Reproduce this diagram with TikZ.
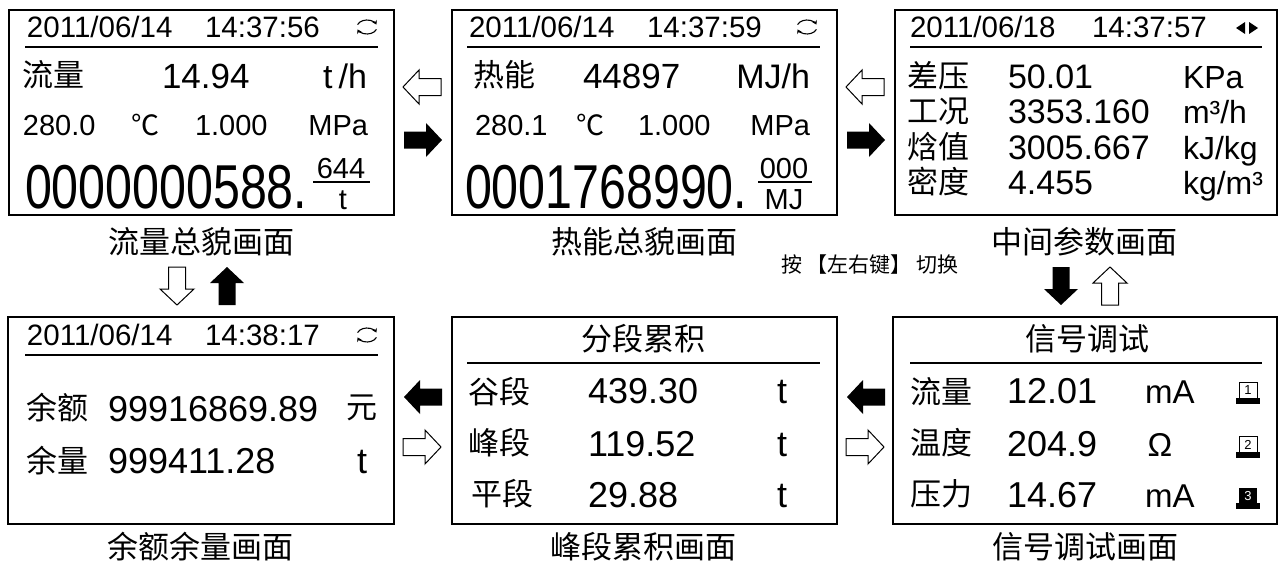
\documentclass[tikz,border=0pt]{standalone}
\usepackage{fontspec}
\usepackage{graphicx}
\setmainfont{Liberation Sans}
\newfontfamily\cjk{Noto Sans CJK SC}
\usetikzlibrary{arrows.meta}
\newcommand\fsz[1]{\fontsize{#1}{#1}\selectfont}
\begin{document}
\begin{tikzpicture}[x=1pt,y=-1pt,
  screen/.style={draw, line width=1.4pt, inner sep=0pt, minimum width=385pt, minimum height=205pt},
  txt/.style={inner sep=0pt, outer sep=0pt},
  cn/.style={txt, font=\cjk\fsz{31}},
  captxt/.style={txt, font=\cjk\fsz{31}},
  hd/.style={txt, font=\fsz{29.5}, anchor=base west},
  val/.style={txt, font=\fsz{35}, anchor=base west},
  mid/.style={txt, font=\fsz{29}, anchor=base west},
  rule/.style={line width=1.2pt},
  whitearr/.style={draw=black, fill=white, line width=1pt},
  blackarr/.style={fill=black},
  blockarrow/.pic={\path[pic actions] (-19,-8.5) -- (3,-8.5) -- (3,-17) -- (19,0) -- (3,17) -- (3,8.5) -- (-19,8.5) -- cycle;},
  refresh/.pic={
    \draw[line width=1.1pt, -{Stealth[length=4pt,width=5pt]}] (-160:10 and 7) arc[start angle=-160, end angle=-20, x radius=10, y radius=7];
    \draw[line width=1.1pt, -{Stealth[length=4pt,width=5pt]}] (20:10 and 7) arc[start angle=20, end angle=160, x radius=10, y radius=7];}
]
\useasboundingbox (0,0) rectangle (1280,565);

% ---------- screens ----------
\node[screen] (s1) at (201.5,112.5) {};
\node[screen] (s2) at (644.5,112.5) {};
\node[screen, minimum width=382pt] (s3) at (1086,112.5) {};
\node[screen, minimum width=386pt, minimum height=207pt] (s4) at (201,420.5) {};
\node[screen, minimum height=207pt] (s5) at (644.5,420.5) {};
\node[screen, minimum width=384pt, minimum height=207pt] (s6) at (1085,420.5) {};

% ---------- captions ----------
\node[captxt] (c1) at (201,242) {流量总貌画面};
\node[captxt] (c2) at (644,242) {热能总貌画面};
\node[captxt] (c3) at (1084,242) {中间参数画面};
\node[captxt] (c4) at (200,547) {余额余量画面};
\node[captxt] (c5) at (643,547) {峰段累积画面};
\node[captxt] (c6) at (1085,547) {信号调试画面};
\node[txt, font=\cjk\fsz{21}] (hint) at (870,265) {按 【左右键】 切换};

% ---------- screen 1 ----------
\node[hd] (d1) at (27,37) {2011/06/14};
\node[hd] (t1) at (205,37) {14:37:56};
\draw[rule] (25,47) -- (378,47);
\pic at (367,27) {refresh};
\node[cn, anchor=west] (l1) at (23,75) {流量};
\node[val] (v1) at (162,88) {14.94};
\node[txt, font=\fsz{34}, anchor=base east] (u1) at (367,88) {t\hspace{6pt}/h};
\node[mid] (a1) at (23,135) {280.0};
\node[txt, font=\cjk\fsz{28}] (g1) at (145,125) {℃};
\node[mid] (p1) at (195,135) {1.000};
\node[txt, font=\fsz{29}, anchor=base east] (m1) at (368,135) {MPa};
\node[txt, font=\fsz{62}, anchor=base west] (n1) at (25,208) {\scalebox{0.78}[1]{0000000588.}};
\node[txt, font=\fsz{29}, anchor=base] (f1) at (341,178) {644};
\draw[rule] (313,182) -- (370,182);
\node[txt, font=\fsz{29}, anchor=base] (e1) at (343,209) {t};

% ---------- screen 2 ----------
\node[hd] (d2) at (469,37) {2011/06/14};
\node[hd] (t2) at (647,37) {14:37:59};
\draw[rule] (467,47) -- (820,47);
\pic at (807,27) {refresh};
\node[cn, anchor=west] (l2) at (473,75) {热能};
\node[val] (v2) at (583,88) {44897};
\node[txt, font=\fsz{34}, anchor=base east] (u2) at (810,88) {MJ/h};
\node[mid] (a2) at (475,135) {280.1};
\node[txt, font=\cjk\fsz{28}] (g2) at (590,125) {℃};
\node[mid] (p2) at (638,135) {1.000};
\node[txt, font=\fsz{29}, anchor=base east] (m2) at (810,135) {MPa};
\node[txt, font=\fsz{62}, anchor=base west] (n2) at (465,208) {\scalebox{0.78}[1]{0001768990.}};
\node[txt, font=\fsz{29}, anchor=base] (f2) at (784,178) {000};
\draw[rule] (758,182) -- (812,182);
\node[txt, font=\fsz{29}, anchor=base] (e2) at (784,209) {MJ};

% ---------- screen 3 ----------
\node[hd] (d3) at (910,37) {2011/06/18};
\node[hd] (t3) at (1092,37) {14:37:57};
\fill (1236,28) -- (1245,22) -- (1245,34) -- cycle;
\fill (1258,28) -- (1249,22) -- (1249,34) -- cycle;
\draw[rule] (910,47) -- (1262,47);
\node[cn, anchor=west] (l3a) at (907,76) {差压};
\node[cn, anchor=west] (l3b) at (907,111) {工况};
\node[cn, anchor=west] (l3c) at (907,147) {焓值};
\node[cn, anchor=west] (l3d) at (907,182) {密度};
\node[txt, font=\fsz{34}, anchor=base west] (v3a) at (1008,88) {50.01};
\node[txt, font=\fsz{34}, anchor=base west] (v3b) at (1008,123.5) {3353.160};
\node[txt, font=\fsz{34}, anchor=base west] (v3c) at (1008,159) {3005.667};
\node[txt, font=\fsz{34}, anchor=base west] (v3d) at (1008,194.5) {4.455};
\node[txt, font=\fsz{32}, anchor=base west] (u3a) at (1183,88) {KPa};
\node[txt, font=\fsz{32}, anchor=base west] (u3b) at (1183,123.5) {m³/h};
\node[txt, font=\fsz{32}, anchor=base west] (u3c) at (1183,159) {kJ/kg};
\node[txt, font=\fsz{32}, anchor=base west] (u3d) at (1183,194.5) {kg/m³};

% ---------- screen 4 ----------
\node[hd] (d4) at (27,345) {2011/06/14};
\node[hd] (t4) at (205,345) {14:38:17};
\draw[rule] (25,355) -- (378,355);
\pic at (367,335) {refresh};
\node[cn, anchor=west] (l4a) at (27,408) {余额};
\node[txt, font=\fsz{36}, anchor=base west] (v4a) at (108,421) {99916869.89};
\node[cn] (y4) at (362,408) {元};
\node[cn, anchor=west] (l4b) at (27,461) {余量};
\node[txt, font=\fsz{36}, anchor=base west] (v4b) at (108,473) {999411.28};
\node[txt, font=\fsz{36}, anchor=base] (u4b) at (362,473) {t};

% ---------- screen 5 ----------
\node[cn] (h5) at (643,339) {分段累积};
\draw[rule] (467,363) -- (820,363);
\node[cn, anchor=west] (l5a) at (468,392) {谷段};
\node[cn, anchor=west] (l5b) at (468,443) {峰段};
\node[cn, anchor=west] (l5c) at (471,494) {平段};
\node[txt, font=\fsz{36}, anchor=base west] (v5a) at (588,403) {439.30};
\node[txt, font=\fsz{36}, anchor=base west] (v5b) at (588,456) {119.52};
\node[txt, font=\fsz{36}, anchor=base west] (v5c) at (588,507) {29.88};
\node[txt, font=\fsz{36}, anchor=base] (u5a) at (782,403) {t};
\node[txt, font=\fsz{36}, anchor=base] (u5b) at (782,456) {t};
\node[txt, font=\fsz{36}, anchor=base] (u5c) at (782,507) {t};

% ---------- screen 6 ----------
\node[cn] (h6) at (1087,339) {信号调试};
\draw[rule] (910,363) -- (1262,363);
\node[cn, anchor=west] (l6a) at (910,392) {流量};
\node[cn, anchor=west] (l6b) at (910,443) {温度};
\node[cn, anchor=west] (l6c) at (910,494) {压力};
\node[txt, font=\fsz{36}, anchor=base west] (v6a) at (1007,403) {12.01};
\node[txt, font=\fsz{36}, anchor=base west] (v6b) at (1007,456) {204.9};
\node[txt, font=\fsz{36}, anchor=base west] (v6c) at (1007,507) {14.67};
\node[txt, font=\fsz{33}, anchor=base west] (u6a) at (1145,403) {mA};
\node[txt, font=\fsz{33}, anchor=base] (u6b) at (1160,456) {Ω};
\node[txt, font=\fsz{33}, anchor=base west] (u6c) at (1145,507) {mA};
% channel icons
\draw[line width=1pt] (1239,382) rectangle (1257,398);
\fill (1236,398) rectangle (1260,404);
\node[txt, font=\fsz{13}] (k1) at (1248,390.5) {1};
\draw[line width=1pt] (1239,436) rectangle (1257,452);
\fill (1236,452) rectangle (1260,458);
\node[txt, font=\fsz{13}] (k2) at (1248,444.5) {2};
\fill (1239,488) rectangle (1257,503);
\fill (1236,503) rectangle (1260,509);
\node[txt, font=\fsz{13}, text=white] (k3) at (1248,496) {3};

% ---------- arrows ----------
\pic[whitearr, rotate=180] at (422,87) {blockarrow};
\pic[blackarr] at (423,140) {blockarrow};
\pic[whitearr, rotate=180] at (865,87) {blockarrow};
\pic[blackarr] at (866,140) {blockarrow};
\pic[whitearr, rotate=-90] at (177,286) {blockarrow};
\pic[blackarr, rotate=90] at (227,286) {blockarrow};
\pic[blackarr, rotate=-90] at (1061,286) {blockarrow};
\pic[whitearr, rotate=90] at (1110,286) {blockarrow};
\pic[blackarr, rotate=180] at (423,397) {blockarrow};
\pic[whitearr] at (422,447) {blockarrow};
\pic[blackarr, rotate=180] at (866,397) {blockarrow};
\pic[whitearr] at (865,447) {blockarrow};
\end{tikzpicture}
\end{document}
